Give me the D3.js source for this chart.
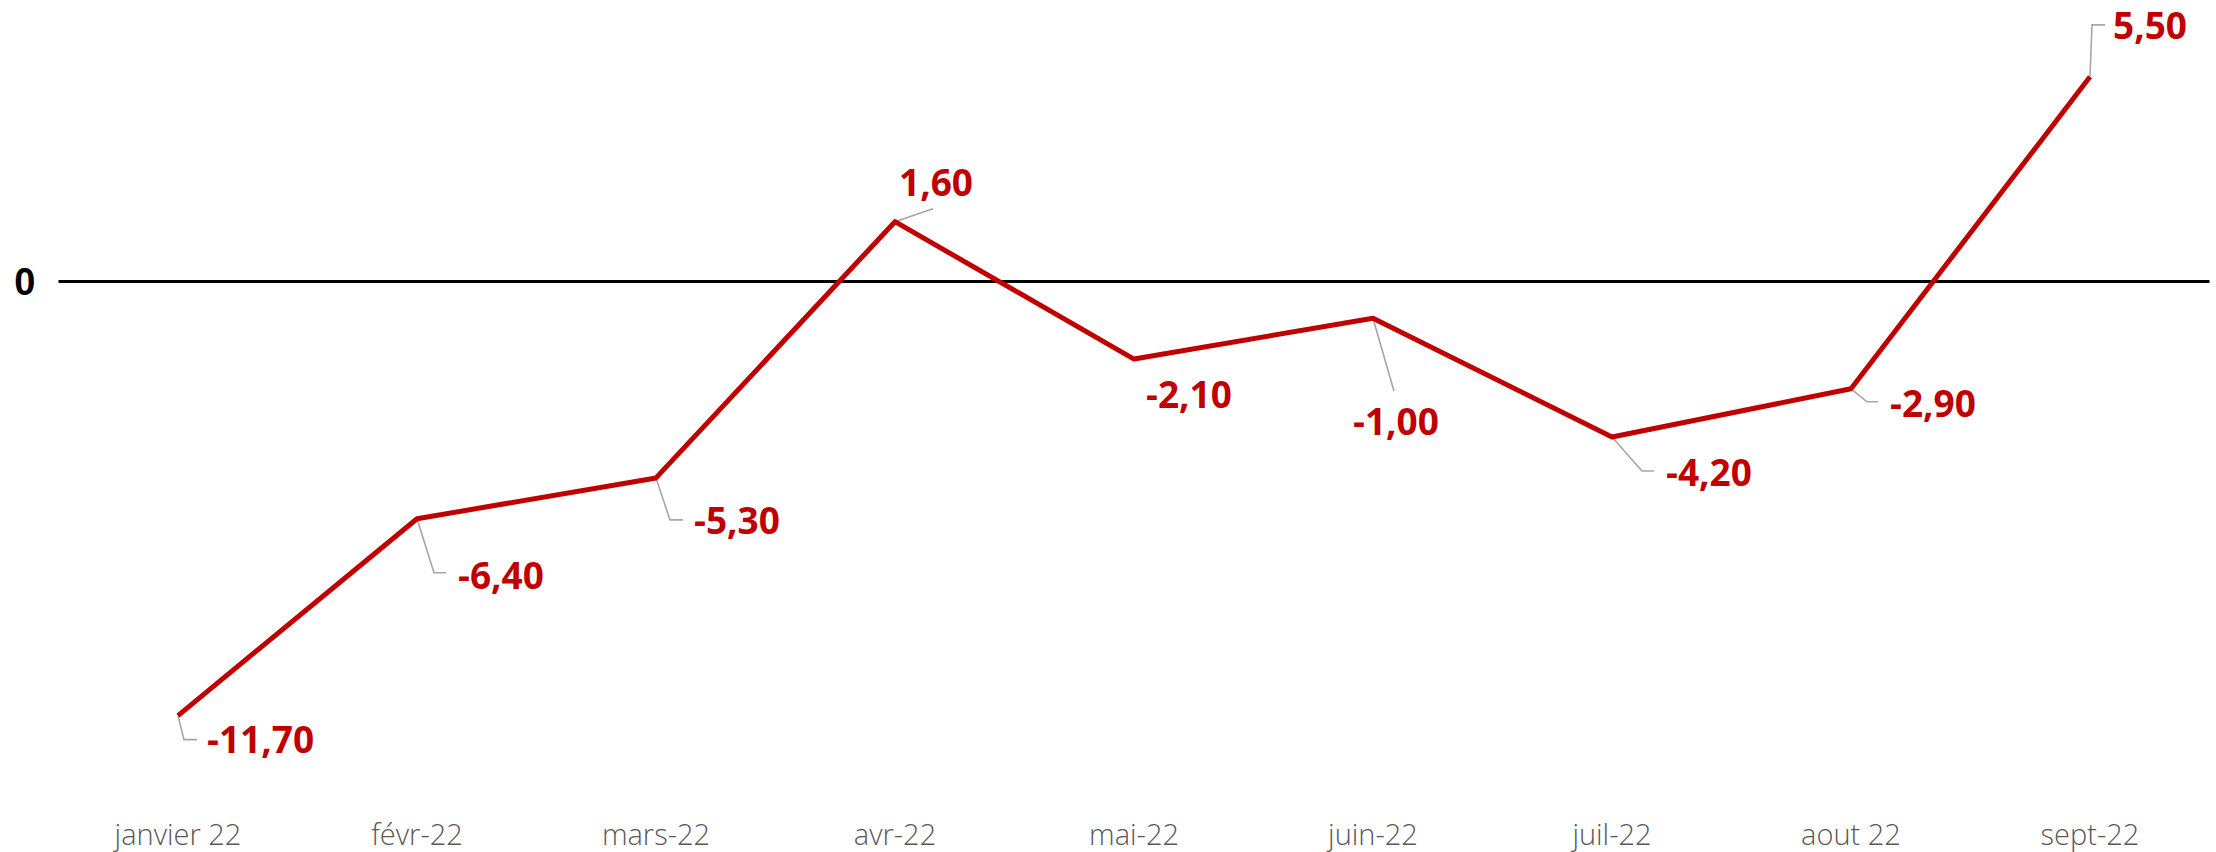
<!DOCTYPE html>
<html>
<head>
<meta charset="utf-8">
<script src="https://cdn.jsdelivr.net/npm/d3@7"></script>
<style>
    html, body { margin: 0; padding: 0; background: #fff; }
</style>
</head>
<body>
<div id="chart"></div>
<script>
const months = ['janvier 22', 'févr-22', 'mars-22', 'avr-22', 'mai-22', 'juin-22', 'juil-22', 'aout 22', 'sept-22'];
const values = [-11.7, -6.4, -5.3, 1.6, -2.1, -1.0, -4.2, -2.9, 5.5];
const zeroTick = [0];

// label placement relative to each point: text start (dx, dy = centre line) and leader line
const labelOffsets = [
    {dx: 29, dy: 24, leader: [[0, 0], [6, 24], [19, 24]]},
    {dx: 41, dy: 57, leader: [[0, 0], [17, 54], [29, 54]]},
    {dx: 38, dy: 43, leader: [[0, 0], [14, 42], [27, 42]]},
    {dx: 4, dy: -39, leader: [[0, 0], [38, -13]]},
    {dx: 12, dy: 36, leader: null},
    {dx: -20, dy: 103, leader: [[0, 0], [21, 73]]},
    {dx: 54, dy: 36, leader: [[0, 0], [30, 34], [42, 34]]},
    {dx: 39, dy: 15, leader: [[0, 0], [16, 13], [27, 13]]},
    {dx: 23, dy: -51, leader: [[0, 0], [2, -52], [15, -52]]}
];

const width = 2216, height = 852;
const fr = d3.formatLocale({decimal: ',', thousands: ' ', grouping: [3], currency: ['', ' €'], minus: '-'});
const fmt = fr.format('.2f');

const svg = d3.select('#chart')
    .append('svg')
    .attr('width', width)
    .attr('height', height);

const x = d3.scaleBand()
    .domain(months)
    .range([58.5, 2209.5])
    .padding(0);
const cx = d => x(d) + x.bandwidth() / 2;

const y = d3.scaleLinear()
    .domain([-14, 8])
    .range([801, -16]);

// zero line + "0" label
const yAxis = svg.append('g')
    .attr('transform', 'translate(58.5,0)')
    .call(d3.axisLeft(y).tickValues(zeroTick).tickSize(-(2209.5 - 58.5)).tickPadding(23).tickFormat(d3.format('d')));
yAxis.select('.domain').remove();
yAxis.selectAll('line').attr('stroke', '#000').attr('stroke-width', 3);
yAxis.selectAll('text')
    .attr('font-family', '"Liberation Sans", Arial, sans-serif')
    .attr('font-weight', 'bold')
    .attr('font-size', '38px')
    .attr('fill', '#000')
    .attr('dy', '0.36em');

// month labels
const xAxis = svg.append('g')
    .attr('transform', 'translate(0,824)')
    .call(d3.axisBottom(x).tickSize(0).tickPadding(0));
xAxis.select('.domain').remove();
xAxis.selectAll('text')
    .attr('font-family', '"Open Sans", "Noto Sans", sans-serif')
    .attr('font-weight', 300)
    .attr('font-size', '29px')
    .attr('fill', '#595959');

// leader lines
const data = months.map((m, i) => ({m, v: values[i], off: labelOffsets[i]}));
svg.selectAll('path.leader')
    .data(data.filter(d => d.off.leader))
    .enter()
    .append('path')
    .attr('class', 'leader')
    .attr('fill', 'none')
    .attr('stroke', '#a6a6a6')
    .attr('stroke-width', 1.6)
    .attr('d', d => d3.line()(d.off.leader.map(p => [cx(d.m) + p[0], y(d.v) + p[1]])));

// series line
const line = d3.line()
    .x(d => cx(d.m))
    .y(d => y(d.v));
svg.append('path')
    .datum(data)
    .attr('fill', 'none')
    .attr('stroke', '#c00000')
    .attr('stroke-width', 5)
    .attr('stroke-linejoin', 'round')
    .attr('d', line);

// value labels
svg.selectAll('text.val')
    .data(data)
    .enter()
    .append('text')
    .attr('class', 'val')
    .attr('x', d => cx(d.m) + d.off.dx)
    .attr('y', d => y(d.v) + d.off.dy)
    .attr('dy', '0.36em')
    .attr('font-family', '"Open Sans", "Noto Sans", sans-serif')
    .attr('font-weight', 'bold')
    .attr('font-size', '37px')
    .attr('fill', '#c00000')
    .text(d => fmt(d.v));
</script>
</body>
</html>
